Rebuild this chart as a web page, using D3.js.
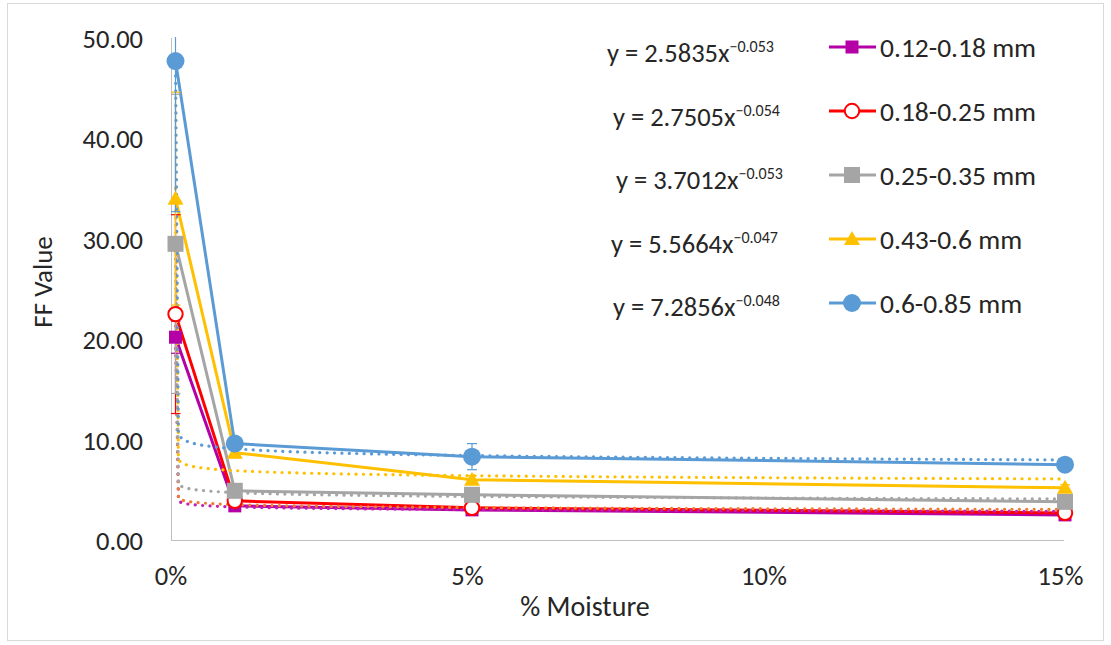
<!DOCTYPE html>
<html lang="en">
<head>
<meta charset="UTF-8">
<title>FF Value vs Moisture</title>
<script src="https://cdn.jsdelivr.net/npm/d3@7"></script>
<style>
  body { margin: 0; background: #fff; }
  text { font-family: Carlito, Lato, sans-serif; fill: #262626; }
</style>
</head>
<body>
<div id="chart"></div>
<script>
// moisture fraction (first one is ~0, kept positive for the power fit)
var moisture = [1e-17, 0.01, 0.05, 0.15];
var seriesNames = ["0.12-0.18 mm", "0.18-0.25 mm", "0.25-0.35 mm", "0.43-0.6 mm", "0.6-0.85 mm"];

var ff012 = [20.2, 3.4, 3.0, 2.5];
var ff018 = [22.5, 3.9, 3.2, 2.7];
var ff025 = [29.5, 4.9, 4.5, 3.8];
var ff043 = [34.0, 8.7, 6.0, 5.2];
var ff060 = [47.7, 9.6, 8.3, 7.5];

var err012 = [1.6, 0.3, 0.2, 0.2];
var err018 = [9.9, 0.4, 0.3, 0.2];
var err025 = [14.9, 0.5, 0.4, 0.3];
var err043 = [10.6, 0.5, 0.4, 0.3];
var err060 = [15.0, 0.6, 1.3, 0.4];

// power trendlines y = a * x^b
var trendA = [2.5835, 2.7505, 3.7012, 5.5664, 7.2856];
var trendB = [-0.053, -0.054, -0.053, -0.047, -0.048];

var yTicks = [0, 10, 20, 30, 40, 50];
var xTicks = [0, 0.05, 0.10, 0.15];

var colors = ["#b400a6", "#ff0000", "#a5a5a5", "#ffc000", "#5b9bd5"];
var trendColors = ["#c020b0", "#ed7d31", "#a5a5a5", "#ffc000", "#5b9bd5"];
var shapes = ["square", "circle-open", "square", "triangle", "circle"];

var width = 1111, height = 645;

var svg = d3.select("#chart").append("svg")
    .attr("width", width)
    .attr("height", height);

svg.append("rect").attr("width", width).attr("height", height).attr("fill", "#fff");
svg.append("rect")
    .attr("x", 7.5).attr("y", 3.5)
    .attr("width", 1096).attr("height", 637)
    .attr("fill", "none").attr("stroke", "#d9d9d9");

var plotLeft = 171, plotRight = 1064, plotTop = 38, plotBottom = 540;

var x = d3.scaleLinear().domain([0, 0.15]).range([175.5, 1065]);
var y = d3.scaleLinear().domain([0, 50]).range([plotBottom, plotTop]);

svg.append("clipPath").attr("id", "plotclip")
    .append("rect")
    .attr("x", plotLeft).attr("y", plotTop - 1)
    .attr("width", plotRight - plotLeft + 12).attr("height", plotBottom - plotTop + 1);

// axes lines
svg.append("line")
    .attr("x1", plotLeft + 0.5).attr("x2", plotLeft + 0.5)
    .attr("y1", plotTop).attr("y2", plotBottom)
    .attr("stroke", "#bfbfbf");
svg.append("line")
    .attr("x1", plotLeft).attr("x2", plotRight)
    .attr("y1", plotBottom + 0.5).attr("y2", plotBottom + 0.5)
    .attr("stroke", "#bfbfbf");

// y tick labels
var yAxis = d3.axisLeft(y).tickValues(yTicks).tickSize(0).tickPadding(0)
    .tickFormat(d3.format(".2f"));
var gy = svg.append("g").attr("transform", "translate(143,0)").call(yAxis);
gy.select(".domain").remove();
gy.selectAll("text")
    .attr("font-size", 26.5)
    .attr("font-family", "Carlito, Lato, sans-serif")
    .attr("fill", "#262626")
    .attr("dy", "0.36em");

// x tick labels
var xAxis = d3.axisBottom(x).tickValues(xTicks).tickSize(0).tickPadding(0)
    .tickFormat(d3.format(".0%"));
var gx = svg.append("g").attr("transform", "translate(0,566)").call(xAxis);
gx.select(".domain").remove();
gx.selectAll("text")
    .attr("font-size", 26.5)
    .attr("font-family", "Carlito, Lato, sans-serif")
    .attr("fill", "#262626")
    .attr("dx", -5);

// axis titles
svg.append("text")
    .attr("transform", "translate(52,282) rotate(-90)")
    .attr("text-anchor", "middle")
    .attr("font-size", 27)
    .text("FF Value");
svg.append("text")
    .attr("x", 585).attr("y", 616)
    .attr("text-anchor", "middle")
    .attr("font-size", 28)
    .text("% Moisture");

var allValues = [ff012, ff018, ff025, ff043, ff060];
var allErrors = [err012, err018, err025, err043, err060];

var plot = svg.append("g").attr("clip-path", "url(#plotclip)");

var line = d3.line()
    .x(function (d) { return x(d[0]); })
    .y(function (d) { return y(d[1]); });

// series lines
allValues.forEach(function (vals, i) {
    var pts = moisture.map(function (m, j) { return [m, vals[j]]; });
    plot.append("path")
        .attr("d", line(pts))
        .attr("fill", "none")
        .attr("stroke", colors[i])
        .attr("stroke-width", 3)
        .attr("stroke-linejoin", "round");
});

// trendlines, sampled from the first x to the last
var trendX = [moisture[0]].concat(d3.range(0.0005, 0.15001, 0.0005));
trendA.forEach(function (a, i) {
    var pts = trendX.map(function (m) { return [m, a * Math.pow(m, trendB[i])]; });
    plot.append("path")
        .attr("d", line(pts))
        .attr("fill", "none")
        .attr("stroke", trendColors[i])
        .attr("stroke-width", 3.2)
        .attr("stroke-linecap", "round")
        .attr("stroke-dasharray", "0.1 7.3");
});

// error bars
allValues.forEach(function (vals, i) {
    var g = plot.append("g").attr("stroke", colors[i]).attr("stroke-width", 1.2);
    vals.forEach(function (v, j) {
        var e = allErrors[i][j];
        var cx = x(moisture[j]);
        g.append("line").attr("x1", cx).attr("x2", cx)
            .attr("y1", y(v - e)).attr("y2", y(v + e));
        [v - e, v + e].forEach(function (c) {
            g.append("line").attr("x1", cx - 5).attr("x2", cx + 5)
                .attr("y1", y(c)).attr("y2", y(c));
        });
    });
});

function drawMarker(g, shape, color, cx, cy) {
    if (shape === "square") {
        var s = color === "#a5a5a5" ? 16 : 13;
        g.append("rect")
            .attr("x", cx - s / 2).attr("y", cy - s / 2)
            .attr("width", s).attr("height", s)
            .attr("fill", color);
    } else if (shape === "circle-open") {
        g.append("circle").attr("cx", cx).attr("cy", cy).attr("r", 7.2)
            .attr("fill", "#fff").attr("stroke", color).attr("stroke-width", 2);
    } else if (shape === "triangle") {
        g.append("path")
            .attr("d", "M" + cx + "," + (cy - 8) + "L" + (cx + 8) + "," + (cy + 6) + "L" + (cx - 8) + "," + (cy + 6) + "Z")
            .attr("fill", color);
    } else {
        g.append("circle").attr("cx", cx).attr("cy", cy).attr("r", 9)
            .attr("fill", color);
    }
}

// markers
allValues.forEach(function (vals, i) {
    var g = svg.append("g");
    vals.forEach(function (v, j) {
        drawMarker(g, shapes[i], colors[i], x(moisture[j]), y(v));
    });
});

// trendline equations
var eqX = [607, 613, 616, 611, 613];
trendA.forEach(function (a, i) {
    var t = svg.append("text")
        .attr("x", eqX[i])
        .attr("y", 62 + i * 63.5)
        .attr("font-size", 26.5);
    t.append("tspan").text("y = " + d3.format(".4f")(a) + "x");
    t.append("tspan")
        .attr("font-size", 16)
        .attr("dy", -10)
        .text(d3.format(".3f")(trendB[i]));
});

// legend
seriesNames.forEach(function (name, i) {
    var ly = 47 + i * 64;
    var g = svg.append("g");
    g.append("line")
        .attr("x1", 829).attr("x2", 876)
        .attr("y1", ly).attr("y2", ly)
        .attr("stroke", colors[i]).attr("stroke-width", 3);
    drawMarker(g, shapes[i], colors[i], 852, ly);
    g.append("text")
        .attr("x", 880).attr("y", ly + 10)
        .attr("font-size", 27.5)
        .text(name);
});
</script>
</body>
</html>
